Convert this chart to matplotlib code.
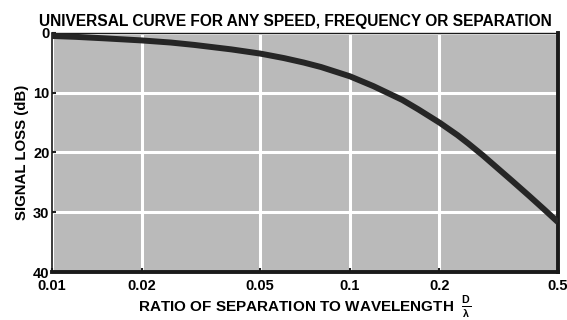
import matplotlib.pyplot as plt
import matplotlib.ticker as mtick

plt.rcParams['font.family'] = ['Liberation Sans', 'DejaVu Sans']
plt.rcParams['font.weight'] = 'bold'
plt.rcParams['mathtext.fontset'] = 'custom'
plt.rcParams['mathtext.rm'] = 'Liberation Sans:bold'
plt.rcParams['mathtext.it'] = 'Liberation Sans:bold'
plt.rcParams['mathtext.bf'] = 'Liberation Sans:bold'

# Curve: ratio D/lambda vs signal loss (dB)
ratio = [0.01, 0.012, 0.015, 0.02, 0.025, 0.03, 0.04, 0.05, 0.06, 0.07, 0.08,
         0.1, 0.12, 0.15, 0.17, 0.2, 0.23, 0.25, 0.28, 0.3, 0.35, 0.4, 0.45, 0.5]
loss = [0.5, 0.65, 0.9, 1.25, 1.6, 2.0, 2.75, 3.45, 4.2, 4.95, 5.7,
        7.25, 8.9, 11.2, 12.8, 15.0, 17.1, 18.5, 20.5, 21.8, 24.7, 27.25, 29.55, 31.65]

x_ticks = [0.01, 0.02, 0.05, 0.1, 0.2, 0.5]
x_labels = ['0.01', '0.02', '0.05', '0.1', '0.2', '0.5']
y_ticks = [0, 10, 20, 30, 40]

fig = plt.figure(figsize=(5.67, 3.2), dpi=100)
ax = fig.add_axes([0.092, 0.15, 0.892, 0.747])
ax.set_facecolor('#bababa')

ax.plot(ratio, loss, color='#262626', linewidth=4.3, solid_capstyle='butt',
        solid_joinstyle='round', zorder=3)

ax.set_xscale('log')
ax.set_xlim(0.01, 0.5)
ax.set_ylim(40, 0)
ax.set_xticks(x_ticks)
ax.set_xticklabels(x_labels)
ax.xaxis.set_minor_locator(mtick.NullLocator())
ax.set_yticks(y_ticks)

ax.grid(True, color='white', linewidth=2.2, zorder=1)
ax.set_axisbelow(True)

ax.tick_params(direction='in', length=3, width=1.5, color='#222222',
               labelsize=10.5)
ax.tick_params(axis='x', pad=5)
ax.tick_params(axis='y', pad=2)
for lab in ax.get_xticklabels() + ax.get_yticklabels():
    lab.set_fontweight('bold')

ax.spines['left'].set_linewidth(1.2)
ax.spines['top'].set_linewidth(1.0)
ax.spines['right'].set_linewidth(2.8)
ax.spines['bottom'].set_linewidth(2.8)
for s in ax.spines.values():
    s.set_color('#1a1a1a')

ax.set_title('UNIVERSAL CURVE FOR ANY SPEED, FREQUENCY OR SEPARATION',
             fontsize=11.2, fontweight='bold', pad=5, x=0.48)
ax.set_xlabel(r'RATIO OF SEPARATION TO WAVELENGTH  $\frac{D}{\lambda}$',
              fontsize=11, fontweight='bold', labelpad=1)
ax.set_ylabel('SIGNAL LOSS (dB)', fontsize=10.8, fontweight='bold', labelpad=3)

fig.savefig('out.png', dpi=100)
